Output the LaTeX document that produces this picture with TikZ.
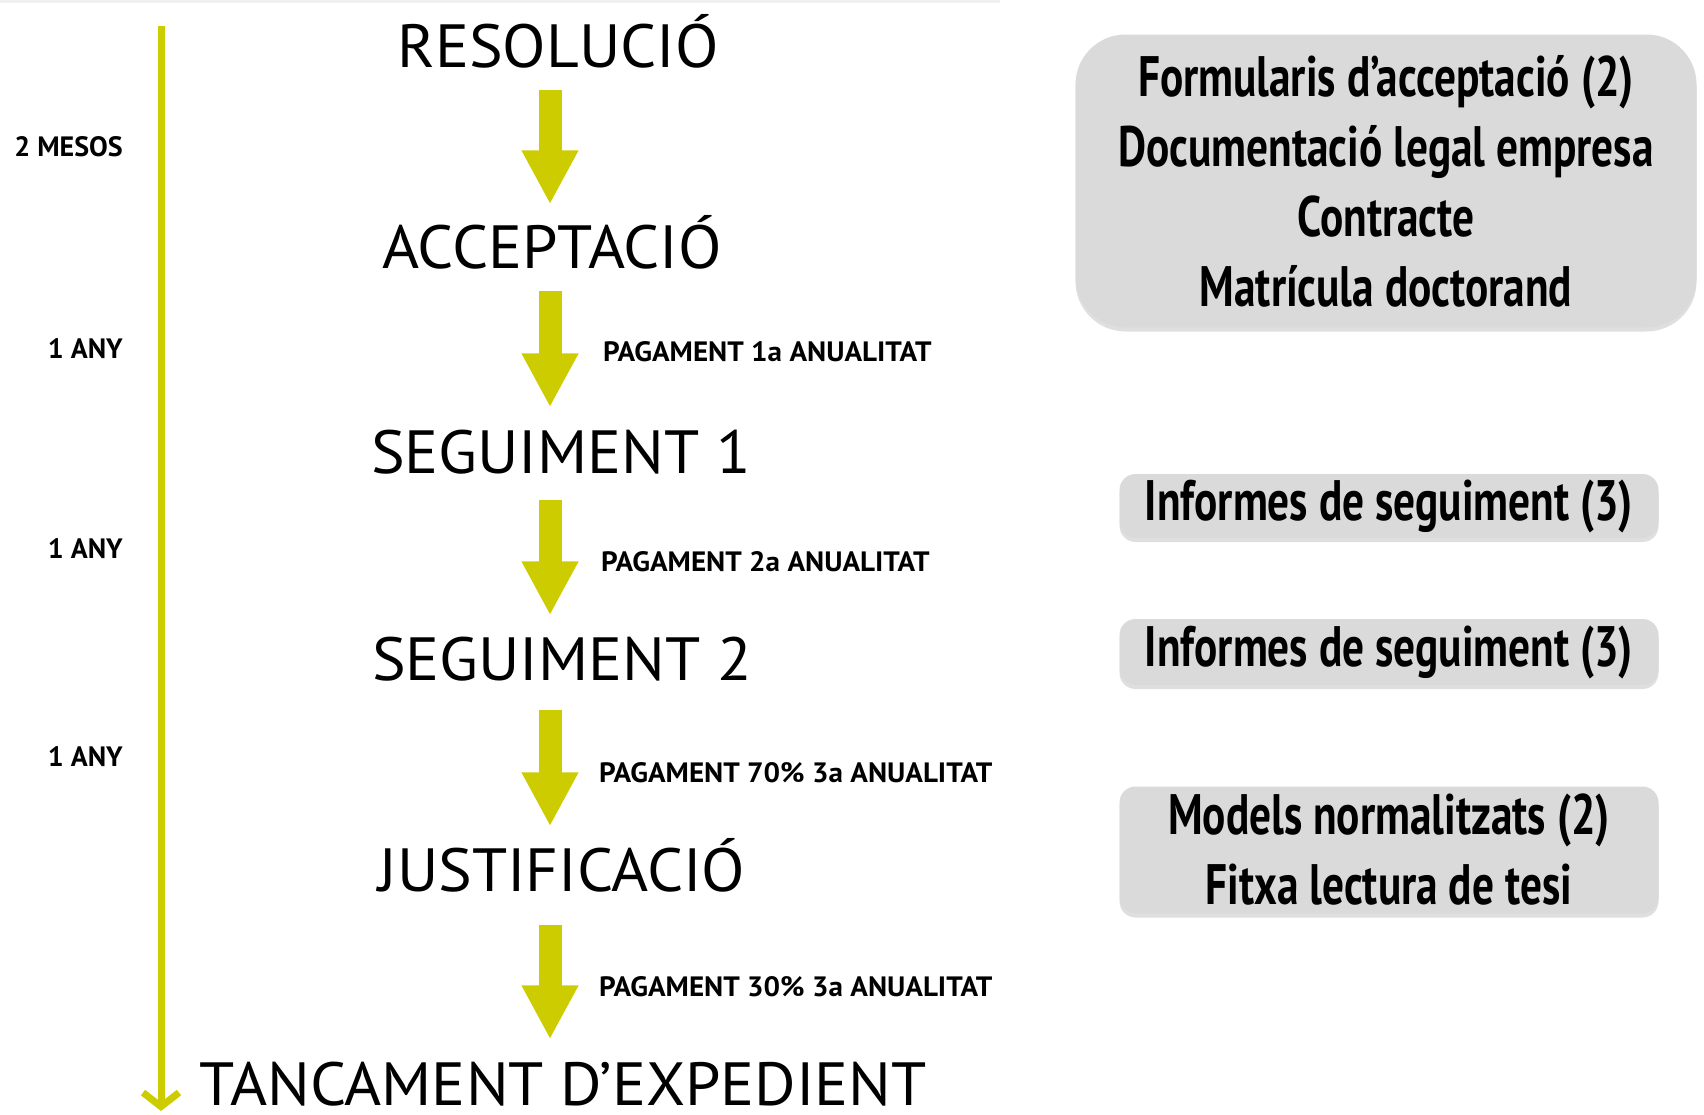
\documentclass[tikz,border=0pt]{standalone}
\usepackage{fontspec}
\setmainfont{PT Sans}
\newfontfamily\stagefont{PT Sans}[FakeStretch=1.04]
\newfontfamily\spanfont{PT Sans}
\newfontfamily\payfont{PT Sans}[FakeStretch=1.04]
\newfontfamily\boxfont{PT Sans}[FakeStretch=0.76]
\usetikzlibrary{positioning, arrows.meta, shadows}
\definecolor{lime}{RGB}{204,204,0}
\definecolor{boxgray}{RGB}{218,218,218}

\begin{document}
\begin{tikzpicture}[
    x=1pt, y=-1pt,
    stage/.style={inner sep=0pt, text height=43pt, text depth=0pt,
        font=\stagefont\fontsize{61}{61}\selectfont},
    pay/.style={anchor=west, inner sep=0pt,
        font=\payfont\bfseries\fontsize{28}{28}\selectfont},
    span/.style={anchor=east, inner sep=0pt,
        font=\spanfont\bfseries\fontsize{28}{28}\selectfont},
    flow/.style={draw=lime, line width=23pt,
        -{Triangle[length=54pt, width=53pt]}},
    docs/.style={fill=boxgray, rounded corners=16pt, align=center, inner sep=0pt,
        font=\boxfont\bfseries\fontsize{57}{70}\selectfont,
        drop shadow={opacity=0.25, shadow xshift=0pt, shadow yshift=-4pt}},
]
    \useasboundingbox (0,0) rectangle (1704,1114);
    \fill[gray!12] (0,0) rectangle (1000,3);

    % timeline
    \coordinate (tltop) at (161,26);
    \coordinate (tlend) at (161,1111);
    \draw[draw=lime, line width=7pt, -{Straight Barb[length=14pt, width=36pt]}] (tltop) -- (tlend);
    \node[span] (mesos) at (123,147) {2 MESOS};
    \node[span] (any1) at (123,349) {1 ANY};
    \node[span] (any2) at (123,549) {1 ANY};
    \node[span] (any3) at (123,757) {1 ANY};

    % stages
    \node[stage] (res) at (558,46) {RESOLUCIÓ};
    \node[stage] (acc) at (552,247) {ACCEPTACIÓ};
    \node[stage] (seg1) at (561,452) {SEGUIMENT 1};
    \node[stage] (seg2) at (562,659) {SEGUIMENT 2};
    \node[stage] (just) at (562,870) {JUSTIFICACIÓ};
    \node[stage] (tanc) at (563,1084) {TANCAMENT D’EXPEDIENT};

    \coordinate (ax) at (550,0);
    \draw[flow, shorten <=22pt, shorten >=21pt] (res.south -| ax) -- (acc.north -| ax);
    \draw[flow, shorten <=22pt, shorten >=23pt] (acc.south -| ax) -- (seg1.north -| ax);
    \draw[flow, shorten <=26pt, shorten >=22pt] (seg1.south -| ax) -- (seg2.north -| ax);
    \draw[flow, shorten <=29pt, shorten >=22pt] (seg2.south -| ax) -- (just.north -| ax);
    \draw[flow, shorten <=33pt, shorten >=23pt] (just.south -| ax) -- (tanc.north -| ax);

    % payments
    \node[pay] (pay1) at (603,352) {PAGAMENT 1a ANUALITAT};
    \node[pay] (pay2) at (601,562) {PAGAMENT 2a ANUALITAT};
    \node[pay] (pay3) at (599,773) {PAGAMENT 70\% 3a ANUALITAT};
    \node[pay] (pay4) at (599,987) {PAGAMENT 30\% 3a ANUALITAT};

    % documents
    \node[docs, rounded corners=50pt, minimum width=621pt, minimum height=293pt] (docacc) at (1386,181)
        {Formularis d’acceptació (2)\\Documentació legal empresa\\Contracte\\Matrícula doctorand};
    \node[docs, minimum width=539pt, minimum height=64pt] (docseg1) at (1389,506) {Informes de seguiment (3)};
    \node[docs, minimum width=539pt, minimum height=66pt] (docseg2) at (1389,652) {Informes de seguiment (3)};
    \node[docs, minimum width=539pt, minimum height=127pt] (docjust) at (1389,850)
        {Models normalitzats (2)\\Fitxa lectura de tesi};
\end{tikzpicture}
\end{document}
